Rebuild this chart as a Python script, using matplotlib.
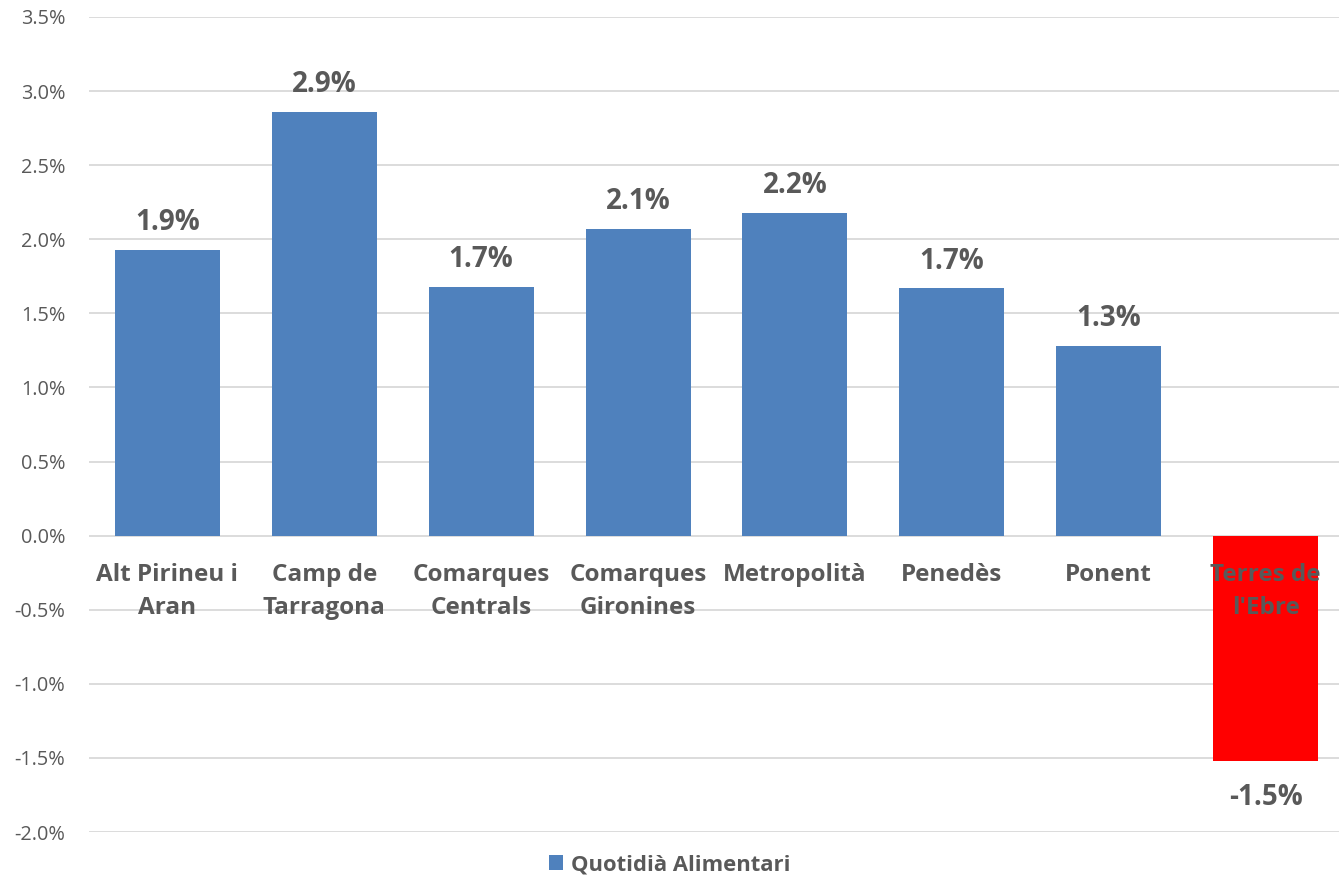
import matplotlib
matplotlib.use("Agg")
import matplotlib.pyplot as plt
import matplotlib.transforms as mtransforms
from matplotlib.patches import Patch

categories = ["Alt Pirineu i\nAran", "Camp de\nTarragona", "Comarques\nCentrals",
              "Comarques\nGironines", "Metropolità", "Penedès", "Ponent", "Terres de\nl'Ebre"]
values = [1.93, 2.86, 1.68, 2.07, 2.18, 1.67, 1.28, -1.52]
value_labels = ["1.9%", "2.9%", "1.7%", "2.1%", "2.2%", "1.7%", "1.3%", "-1.5%"]
yticks = [-2.0, -1.5, -1.0, -0.5, 0.0, 0.5, 1.0, 1.5, 2.0, 2.5, 3.0, 3.5]
series_name = "Quotidià Alimentari"

plt.rcParams['font.family'] = ['Open Sans', 'DejaVu Sans']
grey = "#595959"
blue = "#4f81bd"
red = "#ff0000"

fig = plt.figure(figsize=(13.39, 8.77), dpi=100)
ax = fig.add_axes([89/1339, 1-832/877, 1255/1339, 815/877])

colors = [blue if v >= 0 else red for v in values]
x = list(range(len(values)))
ax.bar(x, values, width=0.67, color=colors, zorder=2)

ax.set_ylim(-2.0, 3.5)
ax.set_xlim(-0.5, len(values) - 0.5)
ax.set_yticks(yticks)
ax.set_yticklabels([f"{t:.1f}%" for t in yticks], color=grey, fontsize=14.3)
ax.tick_params(axis='y', length=0, pad=17)
ax.set_xticks([])
ax.grid(axis='y', color="#d9d9d9", linewidth=1.3, zorder=0)
for s in ax.spines.values():
    s.set_visible(False)

# category labels at zero line
for xi, c in zip(x, categories):
    tr = mtransforms.offset_copy(ax.transData, fig=fig, y=-19.5, units='points')
    ax.text(xi, 0, c, transform=tr, ha='center', va='top', fontsize=17.5,
            fontweight='bold', color=grey, linespacing=1.5, zorder=5)

# value labels
for xi, v, lab in zip(x, values, value_labels):
    off = 9 if v >= 0 else -16
    tr = mtransforms.offset_copy(ax.transData, fig=fig, y=off, units='points')
    ax.text(xi, v, lab, transform=tr, ha='center', va='bottom' if v >= 0 else 'top',
            fontsize=20, fontweight='bold', color=grey, zorder=5)

handle = Patch(facecolor=blue, edgecolor='none')
fig.legend([handle], [series_name], loc='center', bbox_to_anchor=(0.5, 1-865/877),
           frameon=False, prop={'weight': 'bold', 'size': 15.8}, labelcolor=grey,
           handlelength=0.65, handleheight=0.65, handletextpad=0.35)

fig.savefig("out.png", dpi=100)
